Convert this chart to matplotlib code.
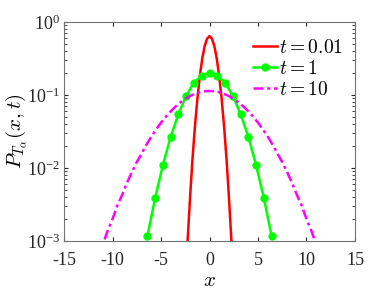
import matplotlib
matplotlib.use('Agg')
import matplotlib.pyplot as plt
import numpy as np

plt.rcParams['font.family'] = ['Liberation Serif', 'DejaVu Serif']
plt.rcParams['mathtext.fontset'] = 'cm'

# t = 0.01 (red, solid)
x_red = [-2.5, -2.25, -2.0, -1.75, -1.5, -1.25, -1.0, -0.75, -0.5, -0.25, 0.0,
         0.25, 0.5, 0.75, 1.0, 1.25, 1.5, 1.75, 2.0, 2.25, 2.5]
p_red = [0.000235, 0.00105, 0.00405, 0.0135, 0.0375, 0.0885, 0.180, 0.314, 0.467, 0.591, 0.64,
         0.591, 0.467, 0.314, 0.180, 0.0885, 0.0375, 0.0135, 0.00405, 0.00105, 0.000235]

# t = 1 (green, dots)
x_green = [-6.4, -5.6, -4.8, -4.0, -3.2, -2.4, -1.6, -0.8, 0.0,
           0.8, 1.6, 2.4, 3.2, 4.0, 4.8, 5.6, 6.4]
p_green = [0.00117, 0.0039, 0.011, 0.0269, 0.055, 0.098, 0.148, 0.184, 0.202,
           0.184, 0.148, 0.098, 0.055, 0.0269, 0.011, 0.0039, 0.00117]

# t = 10 (magenta, dash-dot)
x_mag = [-11.5, -11.0, -10.5, -10.0, -9.5, -9.0, -8.5, -8.0, -7.5, -7.0, -6.5, -6.0,
         -5.5, -5.0, -4.5, -4.0, -3.5, -3.0, -2.5, -2.0, -1.5, -1.0, -0.5, 0.0,
         0.5, 1.0, 1.5, 2.0, 2.5, 3.0, 3.5, 4.0, 4.5, 5.0, 5.5, 6.0,
         6.5, 7.0, 7.5, 8.0, 8.5, 9.0, 9.5, 10.0, 10.5, 11.0, 11.5]
p_mag = [0.00057, 0.00090, 0.00138, 0.0020, 0.00307, 0.0043, 0.0063, 0.0088, 0.0120, 0.0158, 0.0209, 0.0269,
         0.0338, 0.0418, 0.0505, 0.0598, 0.0695, 0.0792, 0.0884, 0.0967, 0.1037, 0.1090, 0.1124, 0.1135,
         0.1124, 0.1090, 0.1037, 0.0967, 0.0884, 0.0792, 0.0695, 0.0598, 0.0505, 0.0418, 0.0338, 0.0269,
         0.0209, 0.0158, 0.0120, 0.0088, 0.0063, 0.0043, 0.00307, 0.0020, 0.00138, 0.00090, 0.00057]

fig = plt.figure(figsize=(3.92, 2.94), dpi=100)
ax = fig.add_axes([0.1633, 0.1803, 0.7423, 0.7449])

ax.plot(x_red, p_red, color='#ff0000', lw=1.8, label=r'$t=0.01$')
ax.plot(x_green, p_green, color='#00ff00', lw=1.8, marker='o', ms=5, label=r'$t=1$')
ax.plot(x_mag, p_mag, color='#ff00ff', lw=1.8, ls=(0, (4, 1.5, 1.2, 1.5)), label=r'$t=10$')

ax.set_yscale('log')
ax.set_xlim(-15, 15)
ax.set_ylim(1e-3, 1e0)
ax.set_xticks([-15, -10, -5, 0, 5, 10, 15])
ax.set_xticklabels(['-15', '-10', '-5', '0', '5', '10', '15'])
ax.tick_params(which='both', direction='in', top=True, right=True, labelsize=13, colors='0.15')
ax.tick_params(which='major', length=3)
ax.tick_params(which='minor', length=2)
ax.tick_params(axis='x', which='major', pad=8)
ax.tick_params(axis='y', which='major', pad=3)
ax.tick_params(axis='x', which='minor', bottom=False, top=False)
for s in ax.spines.values():
    s.set_color('0.45')
    s.set_linewidth(0.8)

ax.set_xlabel(r'$x$', fontsize=15, labelpad=2)
ax.set_ylabel(r'$P_{T_\alpha}(x,t)$', fontsize=15, labelpad=-2)

ax.legend(loc='upper right', bbox_to_anchor=(1.0, 0.975), frameon=False, fontsize=14,
          handlelength=1.25, handletextpad=0.1, labelspacing=0.15, borderaxespad=0.2)

plt.savefig('out.png', dpi=100)
